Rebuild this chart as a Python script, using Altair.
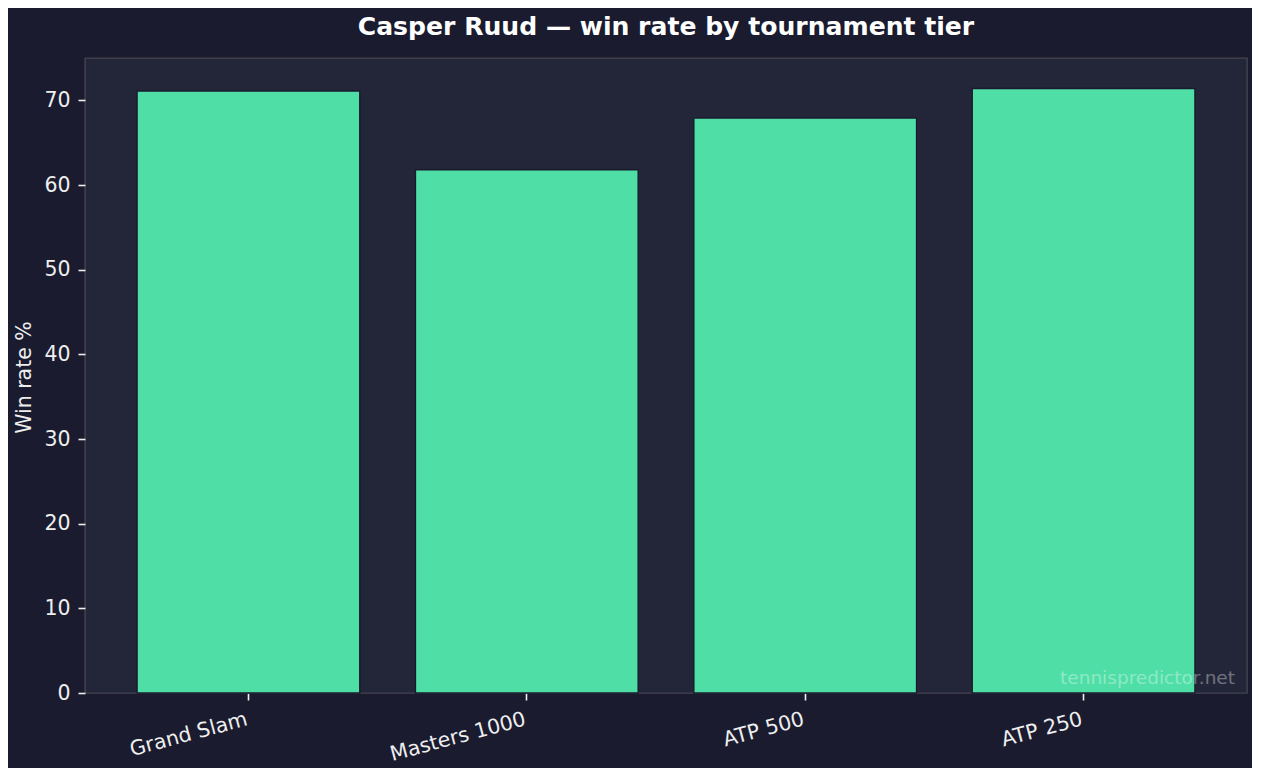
import altair as alt
import pandas as pd

tiers = ["Grand Slam", "Masters 1000", "ATP 500", "ATP 250"]
win_rates = [71.1, 61.8, 67.9, 71.4]
chart_title = ["Casper Ruud — win rate by tournament tier"]
watermark_text = ["tennispredictor.net"]

df = pd.DataFrame({"tier": tiers, "win_rate": win_rates})

FONT = "DejaVu Sans"
FIG_BG = "#1a1b2e"
AX_BG = "#232538"
BAR = "#4fdea6"
TXT = "#eeeeee"

bars = alt.Chart(df).mark_bar(
    color=BAR, stroke=FIG_BG, strokeWidth=1.4
).encode(
    x=alt.X(
        "tier:N",
        sort=tiers,
        title=None,
        scale=alt.Scale(paddingInner=0.2, paddingOuter=0.187),
        axis=alt.Axis(
            labelAngle=345,
            labelAlign="right",
            labelBaseline="top",
            labelPadding=9,
            labelOffset=-4,
            labelFontSize=20.5,
            labelFont=FONT,
            labelColor=TXT,
            tickSize=7,
            tickWidth=1.6,
            tickColor=TXT,
            domain=False,
            grid=False,
        ),
    ),
    y=alt.Y(
        "win_rate:Q",
        title="Win rate %",
        scale=alt.Scale(domain=[0, 75], nice=False),
        axis=alt.Axis(
            values=[0, 10, 20, 30, 40, 50, 60, 70],
            labelFontSize=20.5,
            labelFont=FONT,
            labelColor=TXT,
            labelPadding=8,
            tickSize=7,
            tickWidth=1.6,
            tickColor=TXT,
            domain=False,
            grid=False,
            titleFont=FONT,
            titleFontSize=20.5,
            titleFontWeight="normal",
            titleColor=TXT,
            titleAngle=270,
            titleAlign="center",
            titleBaseline="alphabetic",
            titleX=-54.5,
            titleY=319,
        ),
    ),
)

title_layer = alt.Chart(pd.DataFrame({"t": chart_title})).mark_text(
    align="center",
    baseline="alphabetic",
    font=FONT,
    fontSize=25.1,
    fontWeight="bold",
    color="#ffffff",
).encode(
    text="t:N",
    x=alt.value(581),
    y=alt.value(-23),
)

watermark = alt.Chart(pd.DataFrame({"t": watermark_text})).mark_text(
    align="right",
    baseline="alphabetic",
    font=FONT,
    fontSize=18.5,
    color="#ffffff",
    opacity=0.35,
).encode(
    text="t:N",
    x=alt.value(1150),
    y=alt.value(626),
)

chart = alt.layer(bars, watermark, title_layer).properties(
    width=1162,
    height=635,
    padding={"left": 77, "top": 50, "right": 5, "bottom": 75},
    autosize=alt.AutoSizeParams(type="none"),
    background=FIG_BG,
).configure_view(
    fill=AX_BG,
    stroke="#45454f",
    strokeWidth=1.4,
)

chart.save("out.html", embed_options={"renderer": "svg", "actions": False})
